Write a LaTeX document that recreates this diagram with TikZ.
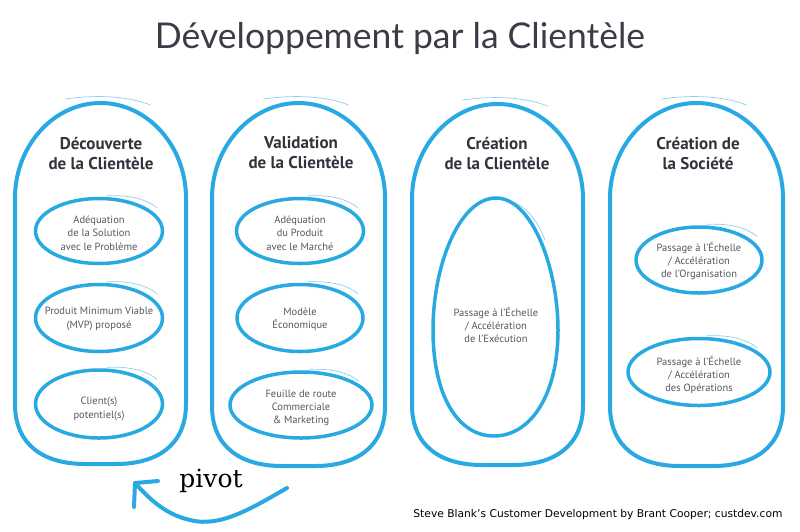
\documentclass[tikz,border=0pt]{standalone}
\usepackage{fontspec}
\setmainfont{PT Sans}
\newfontfamily\titlefont{Lato}
\newfontfamily\pivotfont{DejaVu Serif}
\newfontfamily\footfont{DejaVu Sans}
\usetikzlibrary{shapes.geometric}
\definecolor{skyline}{HTML}{29A9E1}
\definecolor{headgray}{HTML}{33333D}
\definecolor{titlegray}{HTML}{3C3C48}
\definecolor{smallgray}{HTML}{55555F}
\tikzset{
  bluestroke/.style={draw=skyline, line width=4pt, line cap=round, line join=round},
  innerell/.style={ellipse, draw=skyline, line width=3.5pt, inner sep=0pt},
  sketchy/.style={draw=skyline!55, line width=0.7pt, line cap=round},
  headtext/.style={font=\fontsize{17}{20}\selectfont\bfseries, text=headgray, align=center},
  smalltext/.style={font=\fontsize{10.5}{13.3}\selectfont, text=smallgray, align=center},
}
\newcommand\pillshape[4]{%
  \draw[bluestroke] (#1,#3+95) .. controls (#1,#3+43) and ({(#1+#2)/2-47},#3) .. ({(#1+#2)/2},#3)
    .. controls ({(#1+#2)/2+47},#3) and (#2,#3+43) .. (#2,#3+95)
    -- (#2,#4-60) .. controls (#2,#4-18) and (#2-30,#4) .. (#2-70,#4)
    -- (#1+70,#4) .. controls (#1+30,#4) and (#1,#4-18) .. (#1,#4-60) -- cycle;
  \draw[sketchy] ({(#1+#2)/2-35},#3-4) .. controls ({(#1+#2)/2},#3-9) and ({(#1+#2)/2+30},#3-6) .. ({(#1+#2)/2+50},#3+2);}
\newcommand\scribble[1]{%
  \draw[sketchy] (#1.north) ++(8,-1) .. controls +(25,-1) and +(-10,-8) .. ++(50,12);}
\begin{document}
\begin{tikzpicture}[x=1pt,y=-1pt]
\useasboundingbox (0,0) rectangle (800,531);
% title
\node[font=\titlefont\fontsize{35.5}{40}\selectfont, text=titlegray] (title) at (400,38) {Développement par la Clientèle};
% outer shapes
\pillshape{15}{186}{103}{464}
\pillshape{212}{385}{103}{466}
\pillshape{412}{583}{104}{465}
\pillshape{610}{783}{103}{466}
% headings
\node[headtext] (h1) at (101,153) {Découverte\\de la Clientèle};
\node[headtext] (h2) at (301,153) {Validation\\de la Clientèle};
\node[headtext] (h3) at (497,153) {Création\\de la Clientèle};
\node[headtext] (h4) at (698,153) {Création de\\la Société};
% column 1
\node[innerell, minimum width=127pt, minimum height=65pt] (e11) at (99,231) {};
\node[smalltext] (t11) at (99,233) {Adéquation\\de la Solution\\avec le Problème};
\node[innerell, minimum width=127pt, minimum height=67pt] (e12) at (99,318) {};
\node[smalltext] (t12) at (99,319) {Produit Minimum Viable\\(MVP) proposé};
\node[innerell, minimum width=127pt, minimum height=68pt] (e13) at (99,404) {};
\node[smalltext] (t13) at (99,409) {Client(s)\\potentiel(s)};
% column 2
\node[innerell, minimum width=127pt, minimum height=65pt] (e21) at (300,231) {};
\node[smalltext] (t21) at (300,233) {Adéquation\\du Produit\\avec le Marché};
\node[innerell, minimum width=126pt, minimum height=67pt] (e22) at (300,318) {};
\node[smalltext] (t22) at (300,319) {Modèle\\Économique};
\node[innerell, minimum width=142pt, minimum height=66pt] (e23) at (301,405) {};
\node[smalltext] (t23) at (301,408) {Feuille de route\\Commerciale\\\& Marketing};
% column 3 (egg shape)
\coordinate (eggtop) at (496,198);
\coordinate (eggright) at (558,330);
\coordinate (eggbottom) at (494,436);
\coordinate (eggleft) at (433,330);
\draw[bluestroke, line width=3.5pt] (eggtop) .. controls (532,198) and (558,268) .. (eggright)
  .. controls (558,396) and (530,436) .. (eggbottom)
  .. controls (458,436) and (433,396) .. (eggleft)
  .. controls (433,264) and (460,198) .. (eggtop) -- cycle;
\draw[sketchy] (512,201) .. controls (528,208) and (538,222) .. (545,240);
\node[smalltext] (t31) at (496,325) {Passage à l’Échelle\\/ Accélération\\de l’Exécution};
% column 4
\node[innerell, minimum width=126pt, minimum height=66pt] (e41) at (699,260) {};
\node[smalltext] (t41) at (699,261) {Passage à l’Échelle\\/ Accélération\\de l’Organisation};
\node[innerell, minimum width=142pt, minimum height=67pt] (e42) at (699,372) {};
\node[smalltext] (t42) at (699,375) {Passage à l’Échelle\\/ Accélération\\des Opérations};
\scribble{e11}\scribble{e12}\scribble{e13}\scribble{e21}\scribble{e22}\scribble{e23}\scribble{e41}\scribble{e42}
% pivot
\node[font=\pivotfont\fontsize{25}{28}\selectfont, text=black] (pv) at (211,481) {pivot};
\coordinate (pstart) at (287,488);
\coordinate (pmid) at (190,520);
\coordinate (ptip) at (135,483);
\coordinate (pright) at (158,481);
\coordinate (pdown) at (134,507);
\draw[bluestroke] (pstart) .. controls (252,508) and (220,528) .. (pmid)
  .. controls (163,514) and (146,495) .. (ptip);
\draw[bluestroke] (pright) -- (ptip) -- (pdown);
% footer
\node[font=\footfont\fontsize{10.7}{12}\selectfont, text=black, anchor=east] (foot) at (786,515) {Steve Blank’s Customer Development by Brant Cooper; custdev.com};
\end{tikzpicture}
\end{document}
